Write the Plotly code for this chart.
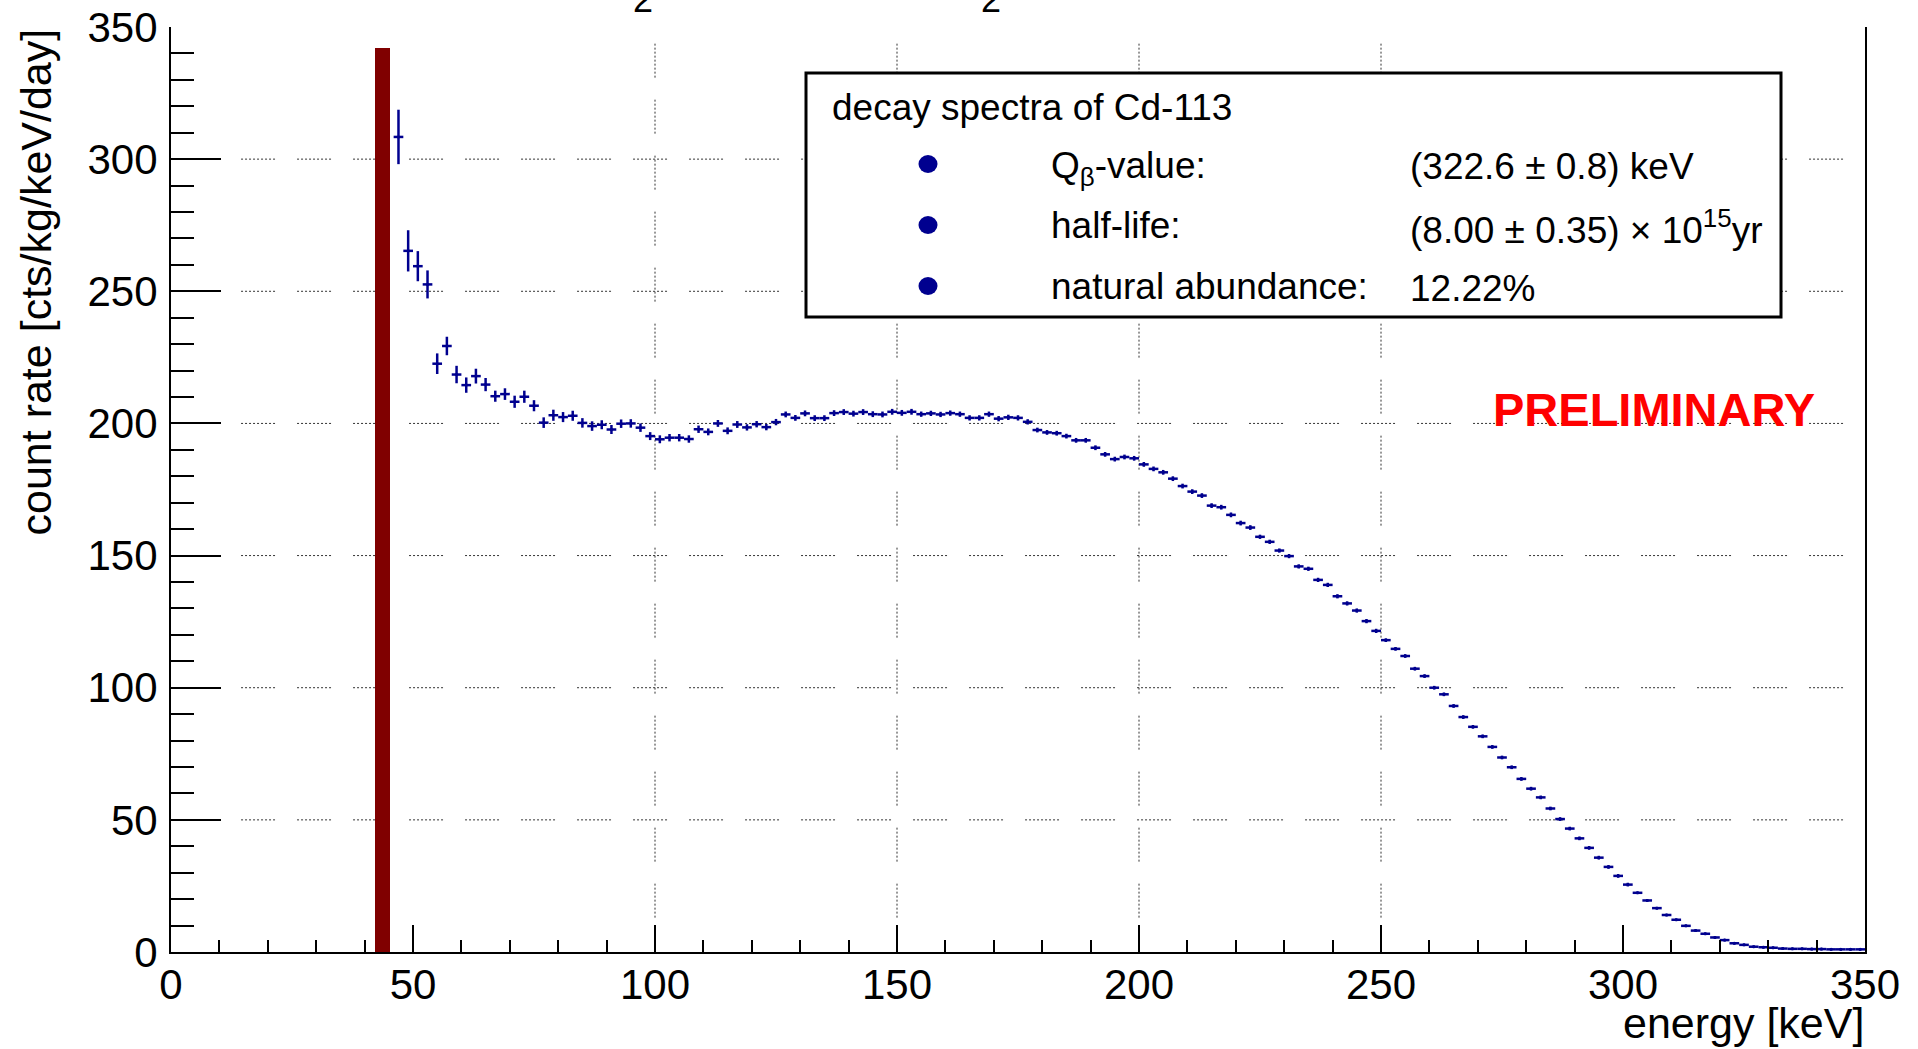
import plotly.graph_objects as go

# ---------------- data ----------------
energy_keV = [47, 49, 51, 53, 55, 57, 59, 61, 63, 65, 67, 69, 71, 73, 75, 77, 79, 81, 83, 85,
              87, 89, 91, 93, 95, 97, 99, 101, 103, 105, 107, 109, 111, 113, 115, 117, 119, 121, 123, 125,
              127, 129, 131, 133, 135, 137, 139, 141, 143, 145, 147, 149, 151, 153, 155, 157, 159, 161, 163, 165,
              167, 169, 171, 173, 175, 177, 179, 181, 183, 185, 187, 189, 191, 193, 195, 197, 199, 201, 203, 205,
              207, 209, 211, 213, 215, 217, 219, 221, 223, 225, 227, 229, 231, 233, 235, 237, 239, 241, 243, 245,
              247, 249, 251, 253, 255, 257, 259, 261, 263, 265, 267, 269, 271, 273, 275, 277, 279, 281, 283, 285,
              287, 289, 291, 293, 295, 297, 299, 301, 303, 305, 307, 309, 311, 313, 315, 317, 319, 321, 323, 325,
              327, 329, 331, 333, 335, 337, 339, 341, 343, 345, 347, 349]

count_rate = [308.4, 265.3, 259.5, 252.6, 222.6, 229.3, 218.5, 214.5, 217.9, 214.7, 210.3, 211.1, 208.2, 210.1, 206.7, 200.3, 203.1, 202.4, 202.9, 200.2,
              199.0, 199.5, 197.7, 199.9, 200.0, 198.4, 195.2, 194.0, 194.6, 194.6, 194.1, 197.8, 196.8, 200.0, 197.2, 199.6, 198.5, 199.7, 198.6, 200.5,
              203.4, 202.1, 203.8, 202.0, 202.0, 203.9, 204.3, 203.7, 204.3, 203.5, 203.4, 204.4, 204.0, 204.4, 203.5, 203.8, 203.4, 203.9, 203.5, 202.1,
              202.1, 203.5, 201.8, 202.3, 202.1, 200.6, 197.5, 196.6, 196.3, 195.2, 193.6, 193.6, 190.8, 188.3, 186.5, 187.3, 186.8, 184.5, 182.8, 181.5,
              179.1, 176.3, 174.2, 172.7, 168.9, 168.3, 165.4, 162.3, 160.6, 157.1, 155.2, 151.9, 149.8, 145.9, 145.0, 140.8, 138.9, 134.6, 131.9, 129.2,
              125.2, 121.5, 118.0, 114.7, 112.0, 107.2, 104.4, 100.0, 97.5, 93.1, 88.9, 85.2, 81.6, 77.6, 73.6, 69.9, 65.5, 61.8, 58.5, 54.3,
              50.3, 46.7, 43.0, 39.4, 35.7, 32.2, 28.8, 25.5, 22.4, 19.5, 16.6, 14.0, 12.2, 9.9, 8.1, 6.9, 5.5, 4.5, 3.3, 2.7,
              2.0, 1.8, 1.6, 1.3, 1.2, 1.2, 1.1, 1.1, 1.0, 1.0, 1.0, 1.0]

rate_error = [10.3, 7.8, 5.7, 5.3, 3.9, 3.5, 3.3, 2.9, 2.8, 2.5, 2.1, 2.2, 2.3, 2.3, 2.1, 2.0, 2.1, 1.9, 1.9, 1.8,
              1.8, 1.7, 1.7, 1.6, 1.6, 1.6, 1.5, 1.5, 1.4, 1.4, 1.4, 1.4, 1.3, 1.3, 1.3, 1.3, 1.2, 1.2, 1.2, 1.2,
              1.1, 1.1, 1.1, 1.1, 1.1, 1.1, 1.1, 1.1, 1.1, 1.1, 1.1, 1.1, 1.1, 1.1, 1.0, 1.0, 1.0, 1.0, 1.0, 1.0,
              1.0, 1.0, 1.0, 1.0, 1.0, 1.0, 0.9, 0.9, 0.9, 0.9, 0.9, 0.9, 0.9, 0.9, 0.9, 0.9, 0.9, 0.9, 0.9, 0.9,
              0.9, 0.9, 0.9, 0.9, 0.9, 0.9, 0.9, 0.9, 0.9, 0.8, 0.8, 0.8, 0.8, 0.8, 0.8, 0.8, 0.8, 0.8, 0.8, 0.8,
              0.8, 0.8, 0.7, 0.7, 0.7, 0.7, 0.7, 0.7, 0.7, 0.7, 0.7, 0.7, 0.7, 0.7, 0.7, 0.7, 0.7, 0.7, 0.7, 0.7,
              0.7, 0.7, 0.7, 0.7, 0.7, 0.7, 0.7, 0.7, 0.5, 0.5, 0.5, 0.5, 0.5, 0.5, 0.5, 0.5, 0.5, 0.5, 0.5, 0.5,
              0.5, 0.5, 0.5, 0.5, 0.5, 0.5, 0.5, 0.5, 0.5, 0.5, 0.5, 0.5]

bin_half_width = [1.0] * len(energy_keV)

threshold_energy = [43.65]     # red band (keV)
threshold_width = [3.1]
threshold_height = [342]

grid_y_values = [50, 100, 150, 200, 250, 300]
grid_x_values = [100, 150, 200, 250]

legend_title = "decay spectra of Cd-113"
legend_labels = ["Q<sub>β</sub>-value:", "half-life:", "natural abundance:"]
legend_values = ["(322.6 ± 0.8) keV", "(8.00 ± 0.35) × 10<sup>15</sup>yr", "12.22%"]

# ---------------- layout geometry ----------------
W, H = 1918, 1049
L, R, T, B = 171, 53, 27, 97
PW, PH = W - L - R, H - T - B
FONT = "Liberation Sans, Arial, Helvetica, sans-serif"
NAVY = "#00008f"


def px_x(px):
    return (px - L) / PW


def px_y(py):
    return (H - B - py) / PH


fig = go.Figure()

fig.add_trace(go.Bar(x=threshold_energy, y=threshold_height, width=threshold_width,
                     marker=dict(color="#800000", line=dict(width=0)), hoverinfo="skip"))

fig.add_trace(go.Scatter(
    x=energy_keV, y=count_rate, mode="markers",
    marker=dict(color=NAVY, size=3),
    error_x=dict(type="data", array=bin_half_width, color=NAVY, thickness=2.5, width=0),
    error_y=dict(type="data", array=rate_error, color=NAVY, thickness=2.5, width=0),
))

dot_dash = ",".join(["2px,2px"] * 8) + ",2px,22px"
shapes = []
for gy in grid_y_values:
    shapes.append(dict(type="line", xref="x", yref="y", x0=2.9, x1=350, y0=gy, y1=gy,
                       line=dict(color="#333333", width=1, dash=dot_dash), layer="below"))
for gx in grid_x_values:
    shapes.append(dict(type="line", xref="x", yref="y", x0=gx, x1=gx, y0=343.7, y1=0,
                       line=dict(color="#333333", width=1, dash=dot_dash), layer="below"))

# legend box
shapes.append(dict(type="rect", xref="paper", yref="paper",
                   x0=px_x(806), x1=px_x(1781), y0=px_y(317), y1=px_y(73),
                   line=dict(color="black", width=3), fillcolor="white", layer="above"))
row_y = [164, 225, 286]
for ry in row_y:
    shapes.append(dict(type="circle", xref="paper", yref="paper",
                       xsizemode="pixel", ysizemode="pixel",
                       xanchor=px_x(928), yanchor=px_y(ry),
                       x0=-9.5, x1=9.5, y0=-9, y1=9,
                       fillcolor=NAVY, line=dict(width=0), layer="above"))

annotations = []


def ann(text, x, y, size, xanchor="left", yanchor="middle", color="black", **kw):
    annotations.append(dict(text=text, x=x, y=y, xref="paper", yref="paper",
                            xanchor=xanchor, yanchor=yanchor, showarrow=False,
                            font=dict(family=FONT, size=size, color=color), **kw))


ann(legend_title, px_x(830), px_y(107), 37)
label_shift = [-4, 0, 0]
for ry, lab, val, sh in zip(row_y, legend_labels, legend_values, label_shift):
    ann(lab, px_x(1049), px_y(ry), 37, yshift=sh)
    ann(val, px_x(1408), px_y(ry + 2), 37)

ann("<b>PRELIMINARY</b>", px_x(1654), px_y(409), 47, xanchor="center", color="#ff0000")

# axis titles
ann("count rate [cts/kg/keV/day]", px_x(35), px_y(27), 43, xanchor="center", yanchor="top", textangle=-90)
ann("energy [keV]", px_x(1866), px_y(997), 43, xanchor="right", yanchor="top")

# clipped glyphs at the top edge
ann("2", px_x(643), px_y(21.6), 36, xanchor="center", yanchor="bottom")
ann("2", px_x(991), px_y(21.6), 36, xanchor="center", yanchor="bottom")

axis_common = dict(
    range=[0, 350], tick0=0, dtick=50, ticks="inside", tickwidth=2, tickcolor="black",
    showline=True, linewidth=2, linecolor="black", showgrid=False, zeroline=False,
    tickfont=dict(family=FONT, size=42, color="black"), automargin=False,
)

fig.update_layout(
    width=W, height=H, margin=dict(l=L, r=R, t=T, b=B),
    paper_bgcolor="white", plot_bgcolor="white", showlegend=False,
    font=dict(family=FONT, color="black"),
    xaxis=dict(**axis_common, ticklen=27, mirror=False, ticklabelstandoff=-5,
               minor=dict(dtick=10, tick0=0, ticks="inside", ticklen=12, tickwidth=2, tickcolor="black", showgrid=False)),
    yaxis=dict(**axis_common, ticklen=50, mirror=True, ticklabelstandoff=3,
               minor=dict(dtick=10, tick0=0, ticks="inside", ticklen=23, tickwidth=2, tickcolor="black", showgrid=False)),
    shapes=shapes, annotations=annotations, bargap=0,
)

fig.write_html("out.html")
